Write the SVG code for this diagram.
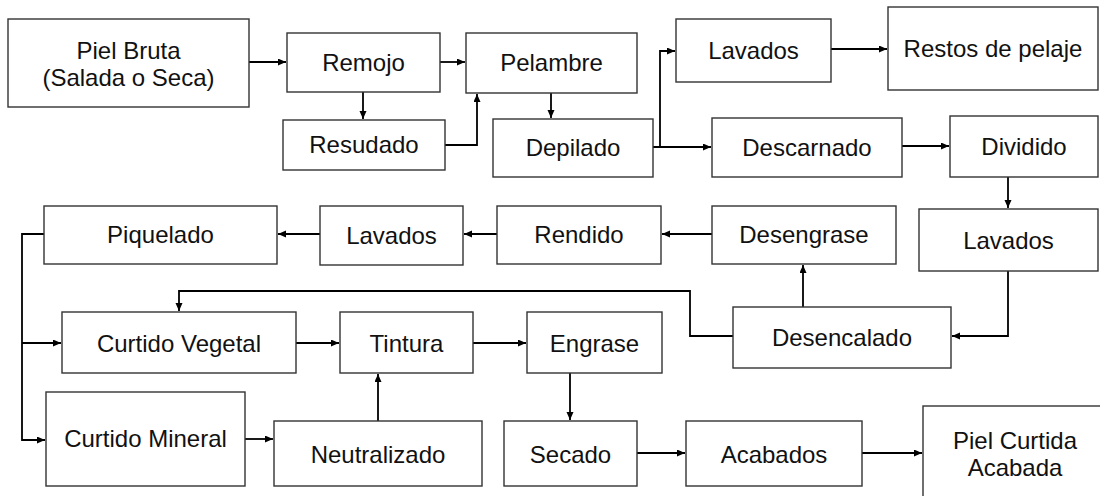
<svg xmlns="http://www.w3.org/2000/svg" width="1100" height="496" viewBox="0 0 1100 496">
<defs>
<style>
.b{fill:#fff;stroke:#333;stroke-width:1.4}
.t{font-family:"Liberation Sans",Arial,sans-serif;font-size:24px;fill:#111;text-anchor:middle}
.c{fill:none;stroke:#000;stroke-width:1.8}
</style>
<marker id="a" markerUnits="userSpaceOnUse" markerWidth="9" markerHeight="8" refX="8" refY="3.5" orient="auto">
<path d="M0,0 L8,3.5 L0,7 z" fill="#000"/>
</marker>
</defs>
<rect width="1100" height="496" fill="#fff"/>
<g id="connectors">
<path class="c" d="M249,62 H286" marker-end="url(#a)"/>
<path class="c" d="M440,62 H465" marker-end="url(#a)"/>
<path class="c" d="M363,92 V119" marker-end="url(#a)"/>
<path class="c" d="M445,145 H477 V94" marker-end="url(#a)"/>
<path class="c" d="M551,93 V118" marker-end="url(#a)"/>
<path class="c" d="M653,147 H711" marker-end="url(#a)"/>
<path class="c" d="M660,147 V51 H675" marker-end="url(#a)"/>
<path class="c" d="M831,49 H887" marker-end="url(#a)"/>
<path class="c" d="M902,146 H949" marker-end="url(#a)"/>
<path class="c" d="M1008,177 V208" marker-end="url(#a)"/>
<path class="c" d="M1008,271 V336 H952" marker-end="url(#a)"/>
<path class="c" d="M803,307 V265" marker-end="url(#a)"/>
<path class="c" d="M733,336 H690 V291 H179 V311" marker-end="url(#a)"/>
<path class="c" d="M712,234 H662" marker-end="url(#a)"/>
<path class="c" d="M497,234 H464" marker-end="url(#a)"/>
<path class="c" d="M320,234 H278" marker-end="url(#a)"/>
<path class="c" d="M44,234 H22 V440 H45" marker-end="url(#a)"/>
<path class="c" d="M22,343 H61" marker-end="url(#a)"/>
<path class="c" d="M296,343 H339" marker-end="url(#a)"/>
<path class="c" d="M473,343 H526" marker-end="url(#a)"/>
<path class="c" d="M245,439 H273" marker-end="url(#a)"/>
<path class="c" d="M378,421 V374" marker-end="url(#a)"/>
<path class="c" d="M570,373 V420" marker-end="url(#a)"/>
<path class="c" d="M637,453 H685" marker-end="url(#a)"/>
<path class="c" d="M862,453 H922" marker-end="url(#a)"/>
</g>
<g id="piel-bruta"><rect class="b" x="8" y="19" width="241" height="88"/><text class="t" x="128.5" y="59">Piel Bruta</text><text class="t" x="128.5" y="86">(Salada o Seca)</text></g>
<g id="remojo"><rect class="b" x="287" y="33" width="153" height="59"/><text class="t" x="363.5" y="71">Remojo</text></g>
<g id="resudado"><rect class="b" x="283" y="120" width="162" height="50"/><text class="t" x="364" y="153">Resudado</text></g>
<g id="pelambre"><rect class="b" x="466" y="33" width="171" height="60"/><text class="t" x="551.5" y="71">Pelambre</text></g>
<g id="depilado"><rect class="b" x="493" y="119" width="160" height="58"/><text class="t" x="573" y="156">Depilado</text></g>
<g id="lavados1"><rect class="b" x="676" y="19" width="155" height="63"/><text class="t" x="753.5" y="59">Lavados</text></g>
<g id="restos"><rect class="b" x="888" y="7" width="210" height="83"/><text class="t" x="993" y="57">Restos de pelaje</text></g>
<g id="descarnado"><rect class="b" x="712" y="118" width="190" height="59"/><text class="t" x="807" y="156">Descarnado</text></g>
<g id="dividido"><rect class="b" x="950" y="116" width="148" height="61"/><text class="t" x="1024" y="155">Dividido</text></g>
<g id="piquelado"><rect class="b" x="44" y="206" width="233" height="58"/><text class="t" x="160.5" y="243">Piquelado</text></g>
<g id="lavados2"><rect class="b" x="320" y="206" width="143" height="59"/><text class="t" x="391.5" y="243.5">Lavados</text></g>
<g id="rendido"><rect class="b" x="497" y="206" width="164" height="58"/><text class="t" x="579" y="243">Rendido</text></g>
<g id="desengrase"><rect class="b" x="712" y="206" width="184" height="58"/><text class="t" x="804" y="243">Desengrase</text></g>
<g id="lavados3"><rect class="b" x="919" y="209" width="179" height="62"/><text class="t" x="1008.5" y="249">Lavados</text></g>
<g id="desencalado"><rect class="b" x="733" y="307" width="218" height="61"/><text class="t" x="842" y="346">Desencalado</text></g>
<g id="curtido-vegetal"><rect class="b" x="62" y="312" width="234" height="61"/><text class="t" x="179" y="351.5">Curtido Vegetal</text></g>
<g id="tintura"><rect class="b" x="340" y="312" width="133" height="61"/><text class="t" x="406.5" y="351.5">Tintura</text></g>
<g id="engrase"><rect class="b" x="527" y="312" width="135" height="61"/><text class="t" x="594.5" y="351.5">Engrase</text></g>
<g id="curtido-mineral"><rect class="b" x="46" y="392" width="199" height="94"/><text class="t" x="145.5" y="447">Curtido Mineral</text></g>
<g id="neutralizado"><rect class="b" x="274" y="421" width="208" height="65"/><text class="t" x="378" y="463">Neutralizado</text></g>
<g id="secado"><rect class="b" x="504" y="421" width="133" height="65"/><text class="t" x="570.5" y="463">Secado</text></g>
<g id="acabados"><rect class="b" x="686" y="421" width="176" height="65"/><text class="t" x="774" y="463">Acabados</text></g>
<g id="piel-curtida"><rect class="b" x="923" y="406" width="200" height="120"/><text class="t" x="1015" y="449">Piel Curtida</text><text class="t" x="1015" y="476">Acabada</text></g>
</svg>
